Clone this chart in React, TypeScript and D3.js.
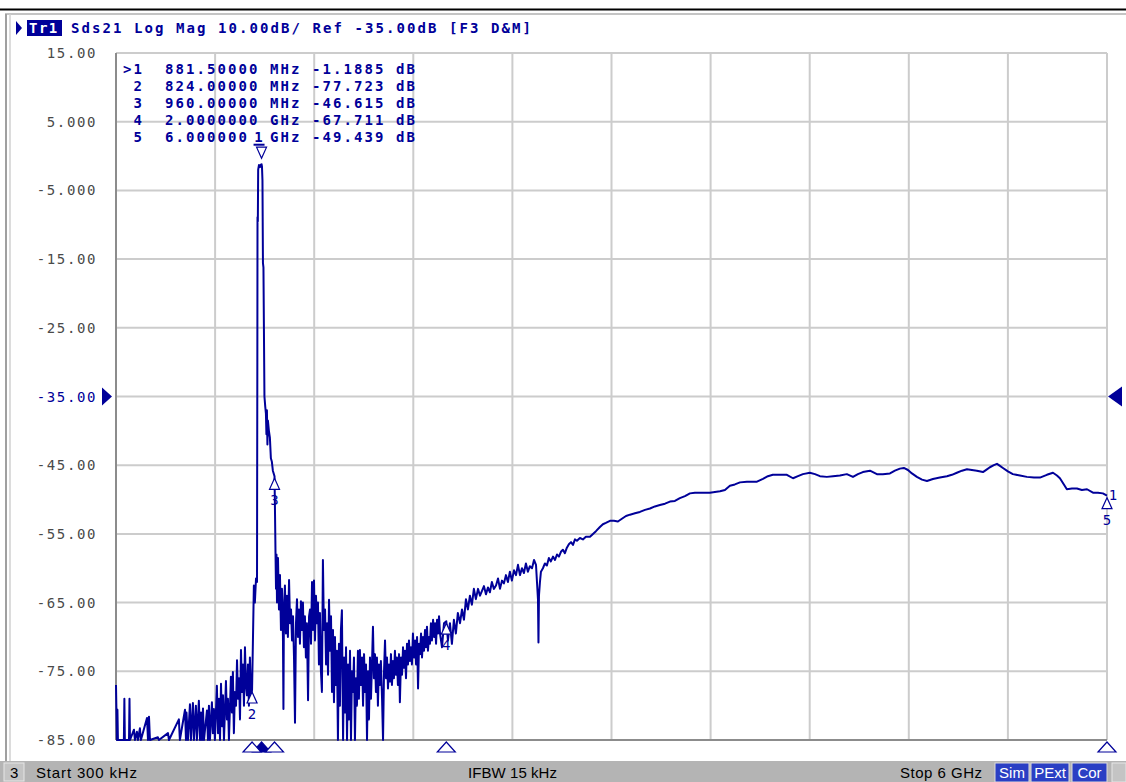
import React from 'react';
import * as d3 from 'd3';

// sweep settings
const START_MHZ = 0.3;
const STOP_MHZ = 6000;

// y axis: 10 dB/div, ref -35 dB
const yTicks = [15, 5, -5, -15, -25, -35, -45, -55, -65, -75, -85];
const yTickLabels = ['15.00', '5.000', '-5.000', '-15.00', '-25.00', '-35.00', '-45.00', '-55.00', '-65.00', '-75.00', '-85.00'];
const REF_DB = -35;

// trace, [MHz, dB]
const stopbandLow = [
  [0.3, -77], [6, -90], [9, -80.6], [12, -90], [48, -90], [51, -79], [54, -90], [79, -90], [82, -79], [85, -90],
  [109, -83.5], [115, -90], [127, -83.8], [133, -90], [145, -83.3], [151, -90], [188, -81.8], [194, -90], [200, -81.6], [206, -90],
  [254, -84.6], [260, -90], [315, -84], [321, -90], [381, -82], [387, -90], [418, -80.6], [424, -88], [427, -81], [436, -90],
  [448, -79.8], [454, -86], [466, -79.6], [472, -88], [484, -80], [490, -86], [502, -79.3], [509, -90], [515, -81], [521, -86],
  [527, -80.4], [533, -90], [551, -80.7], [557, -86], [563, -80], [569, -90], [581, -79.5], [587, -84], [593, -80.5], [599, -90],
  [611, -77.1], [618, -84], [624, -79], [630, -86], [636, -76.8], [642, -83], [648, -78.5], [654, -90], [666, -76.4], [672, -82],
  [678, -79], [684, -86], [696, -75.8], [702, -81], [708, -75.1], [714, -84], [720, -78], [727, -80], [733, -73.4], [739, -79],
  [745, -76], [751, -82], [757, -71.9], [763, -78], [769, -74], [775, -80], [781, -71.5], [787, -77], [793, -78.5], [799, -74],
  [805, -80], [811, -73], [817, -78.5], [824, -77.723], [829, -71], [835, -62.5], [841, -65], [848, -61.5], [854, -62],
];

const passband = [
  [856, -30], [857, -8.9], [859, -9.5], [861, -2], [866, -1.3], [872, -1.6], [878, -1.25], [881.5, -1.1885], [884, -1.5], [887, -3.5],
  [890, -15.6], [893, -16.2], [899, -35], [904, -36.5], [908, -37.5], [911, -40.5], [914, -37], [917, -42], [920, -38.5], [926, -40],
  [932, -41], [938, -44], [944, -44.5], [950, -45.8], [960, -46.615], [963, -52], [966, -57.8], [969, -63], [972, -58], [975, -65],
];

const stopbandNoise = [
  [981, -58.5], [987, -66], [993, -61], [999, -69], [1005, -63], [1011, -70], [1014, -80.5], [1017, -66], [1023, -62.5], [1029, -69.5],
  [1035, -64], [1041, -70], [1048, -61.7], [1054, -68], [1060, -66], [1066, -70.5], [1072, -67], [1078, -73], [1084, -82.5], [1090, -68],
  [1096, -64.5], [1102, -70], [1108, -66], [1114, -71], [1120, -64.8], [1126, -69], [1132, -65], [1138, -71.5], [1144, -67], [1150, -73],
  [1156, -68], [1163, -79.2], [1169, -67], [1175, -66], [1181, -71], [1187, -62], [1193, -69], [1199, -61.8], [1205, -70.5], [1211, -64],
  [1217, -68], [1223, -65], [1229, -74], [1235, -66.5], [1241, -75], [1247, -78], [1253, -58.8], [1259, -69], [1266, -66], [1272, -74],
  [1278, -68], [1284, -75.5], [1290, -64.6], [1296, -72], [1302, -67], [1308, -78], [1314, -69], [1320, -79.5], [1326, -70], [1332, -77],
  [1338, -72], [1344, -85.5], [1350, -71], [1356, -80], [1362, -69], [1368, -66.1], [1375, -86], [1381, -73], [1387, -81], [1393, -71.5],
  [1399, -86], [1405, -74], [1411, -82], [1417, -72], [1423, -87], [1429, -75], [1435, -78], [1441, -73], [1447, -86], [1453, -76],
  [1459, -80], [1465, -72], [1471, -79], [1477, -71.9], [1483, -77], [1490, -73], [1496, -80], [1502, -72.5], [1508, -78], [1514, -74],
  [1520, -86], [1526, -75], [1532, -82], [1538, -73], [1544, -79], [1550, -74], [1556, -68.5], [1562, -76], [1568, -72.5], [1574, -78],
  [1580, -73], [1586, -80], [1592, -74], [1598, -77], [1604, -73.5], [1611, -79], [1617, -86], [1623, -75], [1629, -70.5], [1635, -76],
  [1641, -73], [1647, -77.5], [1653, -74], [1659, -76.5], [1665, -72.5], [1671, -77], [1677, -73.5], [1683, -76], [1689, -72], [1695, -75.5],
  [1701, -73], [1707, -77], [1714, -72.5], [1719, -79.5], [1726, -73], [1732, -75.5], [1738, -71.5], [1744, -74.5], [1750, -72], [1756, -76],
  [1762, -71], [1768, -74], [1774, -70.5], [1780, -73.5], [1786, -71.5], [1792, -74], [1798, -69.5], [1804, -73], [1811, -70.5], [1817, -74],
  [1823, -70], [1829, -77.5], [1835, -71], [1841, -72.5], [1847, -69.5], [1853, -73], [1859, -70], [1865, -72], [1871, -69], [1877, -71.5],
  [1883, -68.5], [1889, -72], [1895, -70], [1901, -71], [1907, -68], [1913, -70.5], [1920, -67.5], [1926, -70], [1932, -68], [1938, -71],
  [1944, -67.5], [1950, -69.5], [1956, -67], [1962, -69.5],
];

const rollUp = [
  [1974, -71.5], [1986, -68], [2000, -67.711], [2010, -70.5], [2022, -68], [2034, -71], [2046, -67.5], [2058, -69.5], [2070, -66.5], [2083, -68],
  [2095, -66], [2107, -67.5], [2119, -64.5], [2131, -66], [2143, -64], [2155, -65.3], [2167, -63], [2179, -64.5], [2192, -63], [2204, -64],
  [2216, -63.3], [2228, -62.6], [2240, -63.8], [2252, -62.8], [2264, -63.5], [2276, -62], [2288, -63], [2301, -62.5], [2313, -61.5], [2325, -63],
  [2337, -61.8], [2349, -62.2], [2361, -61], [2373, -62], [2385, -60.5], [2397, -61.8], [2410, -60.3], [2422, -61], [2434, -59.5], [2446, -61],
  [2458, -60], [2470, -60.7], [2482, -59.3], [2494, -60.5], [2506, -59.7], [2519, -60], [2531, -58.8], [2543, -59.5], [2549, -62], [2555, -64.5],
  [2558, -70.8], [2561, -64], [2567, -62], [2573, -60.5], [2585, -60], [2597, -59.3], [2609, -59.6], [2621, -58.5], [2633, -59], [2646, -58.3],
  [2658, -58.8], [2670, -58], [2682, -58.3], [2694, -57.6], [2706, -57.3], [2718, -57.8], [2730, -57], [2742, -56.5], [2755, -56.2], [2767, -56.6],
  [2779, -55.8], [2791, -56], [2809, -55.6], [2827, -55.8], [2845, -55.4], [2870, -55.4], [2888, -55], [2906, -54.6], [2930, -54], [2948, -53.6],
  [2966, -53.4], [2991, -53.1], [3015, -53.1], [3039, -53.2], [3063, -52.8], [3088, -52.4], [3112, -52.2], [3142, -52], [3172, -51.8], [3203, -51.5],
  [3233, -51.3], [3263, -51], [3293, -50.8], [3324, -50.6], [3354, -50.3], [3384, -50.2], [3414, -49.8], [3445, -49.5], [3475, -49.1], [3505, -49],
  [3535, -49], [3566, -49], [3596, -49], [3626, -48.9], [3657, -48.8], [3687, -48.6], [3717, -48], [3747, -47.8], [3778, -47.5],
];

const highBand = [
  [3820, -47.4], [3881, -47.4], [3917, -47], [3947, -46.6], [3977, -46.4], [4020, -46.4], [4062, -46.4], [4099, -46.9], [4129, -46.6], [4159, -46.3],
  [4201, -46.1], [4232, -46.3], [4262, -46.6], [4304, -46.7], [4341, -46.6], [4383, -46.5], [4425, -46.3], [4462, -46.7], [4492, -46.3], [4522, -46],
  [4565, -45.8], [4607, -46.3], [4643, -46.3], [4686, -46.2], [4716, -45.8], [4746, -45.5], [4770, -45.4], [4795, -45.7], [4819, -46.2], [4849, -46.7],
  [4880, -47.1], [4910, -47.3], [4946, -47], [4988, -46.8], [5031, -46.6], [5061, -46.4], [5091, -46.1], [5122, -45.8], [5152, -45.6], [5182, -45.7],
  [5212, -45.8], [5249, -46], [5273, -45.6], [5291, -45.3], [5315, -45], [5334, -44.8], [5352, -45.1], [5370, -45.4], [5400, -45.9], [5430, -46.3],
  [5473, -46.5], [5515, -46.7], [5558, -46.8], [5594, -46.8], [5636, -46.4], [5673, -46.1], [5697, -46.5], [5715, -46.9], [5739, -47.8], [5757, -48.5],
  [5788, -48.4], [5818, -48.4], [5848, -48.6], [5879, -48.5], [5915, -49], [5945, -49], [5975, -49.1], [6000, -49.439],
];

// markers
const markerIds = [1, 2, 3, 4, 5];
const markerFreqMHz = [881.5, 824, 960, 2000, 6000];
const markerDb = [-1.1885, -77.723, -46.615, -67.711, -49.439];
const markerFreqText = ['881.50000', '824.00000', '960.00000', '2.0000000', '6.0000000'];
const markerUnits = ['MHz', 'MHz', 'MHz', 'GHz', 'GHz'];
const ACTIVE_MARKER = 1;

const headerText = 'Sds21 Log Mag 10.00dB/ Ref -35.00dB [F3 D&M]';
const statusItems = ['Start 300 kHz', 'IFBW 15 kHz', 'Stop 6 GHz'];
const statusFlags = ['Sim', 'PExt', 'Cor'];

const NAVY = '#000099';
const MONO = '"DejaVu Sans Mono", monospace';
const SANS = '"Liberation Sans", Arial, sans-serif';

export default function App() {
  const W = 1126;
  const H = 782;
  const left = 116, right = 1107, top = 53, bottom = 740;

  const x = d3.scaleLinear().domain([START_MHZ, STOP_MHZ]).range([left, right]);
  const y = d3.scaleLinear().domain([-85, 15]).range([bottom, top]).clamp(true);

  const trace = [...stopbandLow, ...passband, ...stopbandNoise, ...rollUp, ...highBand];
  const line = d3.line<number[]>().x(d => x(d[0])).y(d => y(d[1]));

  const xGrid = d3.range(11).map(i => START_MHZ + (i * (STOP_MHZ - START_MHZ)) / 10);
  const cw = 10.5; // char pitch of the table font
  const tx = 123;

  return (
    <svg width={W} height={H} style={{ position: 'absolute', left: 0, top: 0, background: '#fff' }}>
      {/* window frame */}
      <line x1={0} x2={W} y1={9.5} y2={9.5} stroke="#000" strokeWidth={2} />
      <line x1={5} x2={W} y1={14} y2={14} stroke="#b0b0b0" strokeWidth={1.5} />
      <line x1={6} x2={6} y1={14} y2={761} stroke="#a0a0a0" strokeWidth={2} />
      <line x1={10} x2={10} y1={14} y2={761} stroke="#d0d0d0" strokeWidth={1.5} />

      {/* header */}
      <polygon points="16,21 16,35 22,28" fill={NAVY} />
      <rect x={27} y={20} width={35} height={16} fill={NAVY} />
      <text x={29} y={33} fontFamily={MONO} fontSize={14} fontWeight="bold" fill="#fff" letterSpacing={1.5}>Tr1</text>
      <text x={71} y={33} fontFamily={MONO} fontSize={14} fontWeight="bold" fill={NAVY} letterSpacing={2.07}>{headerText}</text>

      {/* grid */}
      {yTicks.map(v => (
        <line key={'h' + v} x1={left} x2={right} y1={y(v)} y2={y(v)} stroke="#cccccc" strokeWidth={2} />
      ))}
      {xGrid.map((f, i) => (
        <line key={'v' + i} x1={x(f)} x2={x(f)} y1={top} y2={bottom} stroke="#cccccc" strokeWidth={2} />
      ))}
      <line x1={left} x2={left} y1={top} y2={bottom} stroke="#8c8c8c" strokeWidth={2} />
      <line x1={left} x2={right} y1={bottom} y2={bottom} stroke="#8c8c8c" strokeWidth={2} />

      {/* y labels */}
      {yTicks.map((v, i) => (
        <text key={'l' + v} x={97} y={y(v) + 5} textAnchor="end" fontFamily={MONO} fontSize={14}
          fill={v === REF_DB ? NAVY : '#4a4a4a'} letterSpacing={1.6}>{yTickLabels[i]}</text>
      ))}

      {/* reference level arrows */}
      <polygon points={`102,${y(REF_DB) - 9} 102,${y(REF_DB) + 9} 112,${y(REF_DB)}`} fill={NAVY} />
      <polygon points={`1122,${y(REF_DB) - 10} 1122,${y(REF_DB) + 10} 1108,${y(REF_DB)}`} fill={NAVY} />

      {/* trace */}
      <path d={line(trace) || ''} fill="none" stroke={NAVY} strokeWidth={2} strokeLinejoin="round" />

      {/* marker table */}
      {markerIds.map((id, i) => {
        const by = 73.5 + i * 17.2;
        return (
          <g key={'t' + id} fontFamily={MONO} fontSize={14} fontWeight="bold" fill={NAVY} letterSpacing={2.07}>
            <text x={tx + 2 * cw} y={by} textAnchor="end">{(id === ACTIVE_MARKER ? '>' : '') + id}</text>
            <text x={tx + 4 * cw} y={by}>{markerFreqText[i]}</text>
            <text x={tx + 14 * cw} y={by}>{markerUnits[i]}</text>
            <text x={tx + 18 * cw} y={by}>{markerDb[i].toPrecision(5)}</text>
            <text x={tx + 26 * cw} y={by}>dB</text>
          </g>
        );
      })}

      {/* markers on trace */}
      {markerIds.map((id, i) => {
        const mx = x(markerFreqMHz[i]);
        const my = y(markerDb[i]);
        if (id === ACTIVE_MARKER) {
          return (
            <g key={'m' + id}>
              <rect x={mx - 13} y={my - 34} width={19} height={14} fill="#fff" />
              <text x={mx - 3} y={my - 22} textAnchor="middle" fontFamily={MONO} fontSize={14} fontWeight="bold" fill={NAVY}>{id}</text>
              <line x1={mx - 8} x2={mx + 3} y1={my - 19.5} y2={my - 19.5} stroke={NAVY} strokeWidth={2} />
              <polygon points={`${mx - 5},${my - 17} ${mx + 5},${my - 17} ${mx},${my - 6}`} fill="#fff" stroke={NAVY} strokeWidth={1.2} />
            </g>
          );
        }
        return (
          <g key={'m' + id}>
            <polygon points={`${mx},${my + 2} ${mx - 5},${my + 13} ${mx + 5},${my + 13}`} fill="#fff" stroke={NAVY} strokeWidth={1.2} />
            <text x={mx} y={my + 29} textAnchor="middle" fontFamily={MONO} fontSize={14} fill={NAVY}>{id}</text>
          </g>
        );
      })}
      <text x={1113} y={500} textAnchor="middle" fontFamily={MONO} fontSize={14} fill={NAVY}>1</text>

      {/* marker position indicators under the grid */}
      {markerIds.map((id, i) => {
        const mx = x(markerFreqMHz[i]);
        return (
          <polygon key={'b' + id} points={`${mx},${742} ${mx - 9},${752} ${mx + 9},${752}`}
            fill={id === ACTIVE_MARKER ? NAVY : '#fff'} stroke={NAVY} strokeWidth={1.2} />
        );
      })}

      {/* status bar */}
      <rect x={0} y={761} width={W} height={21} fill="#b4b4b4" />
      <rect x={4} y={763} width={20} height={18} fill="#c4c4c4" stroke="#e6e6e6" />
      <text x={10} y={778} fontFamily={SANS} fontSize={15} fill="#000">3</text>
      {statusItems.map((s, i) => (
        <text key={s} x={[36, 468, 900][i]} y={778} fontFamily={SANS} fontSize={15} fill="#000"
          textLength={[101, 89, 82][i]} lengthAdjust="spacing">{s}</text>
      ))}
      {statusFlags.map((s, i) => {
        const bx = [995, 1031, 1072][i];
        const bw = [34, 38, 35][i];
        return (
          <g key={s}>
            <rect x={bx} y={763} width={bw} height={19} fill="#2a3fc4" stroke="#dcdcdc" />
            <text x={bx + bw / 2} y={778} textAnchor="middle" fontFamily={SANS} fontSize={15} fill="#fff">{s}</text>
          </g>
        );
      })}
      <rect x={1112} y={763} width={14} height={19} fill="#c4c4c4" stroke="#e6e6e6" />
    </svg>
  );
}
